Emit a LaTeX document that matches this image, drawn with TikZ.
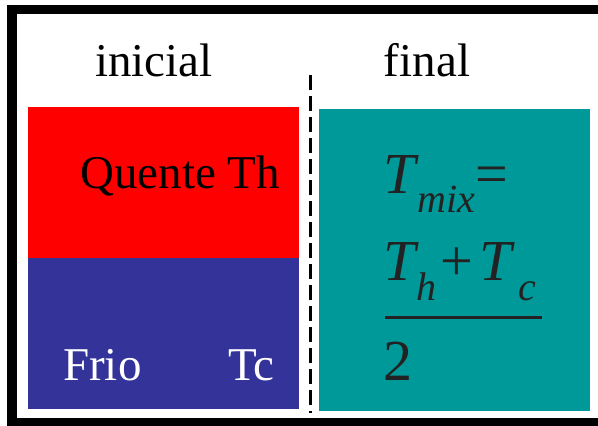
\documentclass[tikz,border=0pt]{standalone}
\usepackage{fontspec}
\setmainfont{Liberation Serif}
\usetikzlibrary{positioning}
\definecolor{quente}{HTML}{FF0000}
\definecolor{frio}{HTML}{333399}
\definecolor{mistura}{HTML}{009999}
\definecolor{tinta}{HTML}{222222}
\tikzset{
  % textos
  label big/.style={inner sep=0pt,font=\fontsize{47}{50}\selectfont},
  eq big/.style={inner sep=0pt,text=tinta,font=\fontsize{58}{60}\selectfont\itshape},
  eq sub/.style={inner sep=0pt,text=tinta,font=\fontsize{40}{42}\selectfont\itshape},
  eq sym/.style={inner sep=0pt,text=tinta,font=\fontsize{58}{60}\selectfont}
}
\begin{document}
\begin{tikzpicture}[x=1pt,y=-1pt]
    \useasboundingbox (0,0) rectangle (598,426);
    % blocos
    \fill[quente]  (28,107)  rectangle (299,258);
    \fill[frio]    (28,258)  rectangle (299,409);
    \fill[mistura] (319,109) rectangle (590,411);
    % moldura
    \draw[line width=9.5, line join=miter] (598,9.5) -- (12,9.5) -- (12,423) -- (598,423);
    \draw[line width=3, dash pattern=on 15 off 6] (310,75) -- (310,413);
    % titulos
    \node[label big, anchor=base] (Inicial) at (154,76) {inicial};
    \node[label big, anchor=base] (Final)   at (427,76) {final};
    % estado inicial
    \node[label big, anchor=base west] (Quente) at (80,188) {Quente Th};
    \node[label big, anchor=base west, text=white] (Frio) at (63,380) {Frio};
    \node[label big, anchor=base west, text=white] (Tc)   at (228,380) {Tc};
    % estado final
    \node[eq big, anchor=base west] (Tmix)  at (383,193) {T};
    \node[eq sub, anchor=base west] (Smix)  at (417,212) {mix};
    \node[eq sym, anchor=base west] (Igual) at (475,193) {=};
    \node[eq big, anchor=base west] (Th)    at (383,280) {T};
    \node[eq sub, anchor=base west] (Sh)    at (416,300) {h};
    \node[eq sym, anchor=base west] (Mais)  at (440,280) {+};
    \node[eq big, anchor=base west] (Tc2)   at (479,280) {T};
    \node[eq sub, anchor=base west] (Sc)    at (518,300) {c};
    \draw[tinta, line width=3] (385,317) -- (542,317);
    \node[eq sym, anchor=base west] (Dois)  at (383,380) {2};
\end{tikzpicture}
\end{document}
